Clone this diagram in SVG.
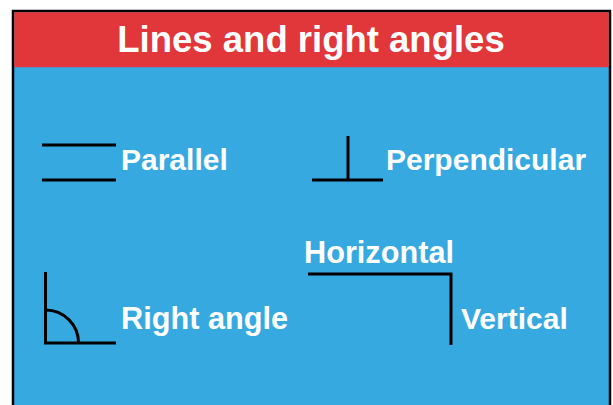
<svg xmlns="http://www.w3.org/2000/svg" width="613" height="405" viewBox="0 0 613 405">
<style>
.t{font-family:"Liberation Sans",Arial,sans-serif;font-weight:bold;fill:#fff}
.l{stroke:#000;stroke-width:3;fill:none}
</style>
<rect x="0" y="0" width="613" height="405" fill="#fff"/>
<g id="frame">
<rect x="13" y="11" width="597" height="400" fill="#36A9E1" stroke="#000" stroke-width="2.5"/>
<rect x="14.2" y="12.2" width="594.6" height="55" fill="#E1363A"/>
</g>
<g id="title"><text class="t" x="311" y="52" font-size="36.5" text-anchor="middle">Lines and right angles</text></g>
<g id="parallel">
<line class="l" x1="42" y1="145" x2="116" y2="145"/>
<line class="l" x1="42" y1="180" x2="116" y2="180"/>
<text class="t" x="121" y="170" font-size="30">Parallel</text>
</g>
<g id="perpendicular">
<line class="l" x1="348" y1="136" x2="348" y2="180"/>
<line class="l" x1="312" y1="180" x2="383" y2="180"/>
<text class="t" x="386" y="170" font-size="30">Perpendicular</text>
</g>
<g id="rightangle">
<path class="l" d="M45.5 272 V343 H116"/>
<path class="l" d="M45.5 310 A33 33 0 0 1 78.5 343"/>
<text class="t" x="121" y="329" font-size="30.5" textLength="167" lengthAdjust="spacingAndGlyphs">Right angle</text>
</g>
<g id="horizvert">
<text class="t" x="304" y="263" font-size="30.5" textLength="150" lengthAdjust="spacingAndGlyphs">Horizontal</text>
<path class="l" d="M308 274 H451 V345"/>
<text class="t" x="461" y="329" font-size="30">Vertical</text>
</g>
</svg>
